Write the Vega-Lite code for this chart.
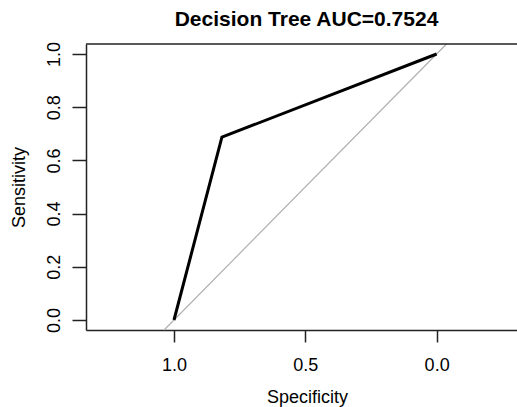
{
  "$schema": "https://vega.github.io/schema/vega-lite/v6.json",
  "autosize": "none",
  "width": 431,
  "height": 286,
  "padding": {"left": 86, "top": 44, "right": 0, "bottom": 77},
  "background": "white",
  "config": {
    "font": "Liberation Sans",
    "view": {"stroke": null}
  },
  "title": {
    "text": "Decision Tree AUC=0.7524",
    "fontSize": 21,
    "fontWeight": "bold",
    "color": "black",
    "anchor": "middle",
    "baseline": "middle",
    "offset": 0,
    "dx": 5
  },
  "datasets": {
    "roc": [
      {"specificity": 1.0, "sensitivity": 0.0},
      {"specificity": 0.8175, "sensitivity": 0.6873},
      {"specificity": 0.0, "sensitivity": 1.0}
    ],
    "diag": [
      {"specificity": 1.0376, "sensitivity": -0.0376},
      {"specificity": -0.0376, "sensitivity": 1.0376}
    ],
    "box": [
      {"top": 1.0376}
    ]
  },
  "layer": [
    {
      "data": {"name": "diag"},
      "mark": {"type": "line", "color": "#b0b0b0", "strokeWidth": 1.2},
      "encoding": {
        "x": {
          "field": "specificity",
          "type": "quantitative",
          "scale": {"domain": [-0.306, 1.335], "reverse": true, "nice": false, "zero": false},
          "axis": {
            "orient": "bottom",
            "values": [1, 0.5, 0],
            "format": ".1f",
            "title": "Specificity",
            "grid": false,
            "domainColor": "#222222",
            "domainWidth": 1.5,
            "tickColor": "#222222",
            "tickWidth": 1.5,
            "tickSize": 12,
            "labelFontSize": 18,
            "labelColor": "black",
            "labelPadding": 14,
            "labelBaseline": "top",
            "titleFontSize": 18,
            "titleFontWeight": "normal",
            "titleColor": "black",
            "titleY": 67,
            "titleBaseline": "middle",
            "titleX": 221
          }
        },
        "y": {
          "field": "sensitivity",
          "type": "quantitative",
          "scale": {"domain": [-0.0376, 1.0376], "nice": false, "zero": false},
          "axis": {
            "orient": "left",
            "values": [0, 0.2, 0.4, 0.6, 0.8, 1.0],
            "format": ".1f",
            "title": "Sensitivity",
            "grid": false,
            "domainColor": "#222222",
            "domainWidth": 1.5,
            "tickColor": "#222222",
            "tickWidth": 1.5,
            "tickSize": 14,
            "labelFontSize": 18,
            "labelColor": "black",
            "labelAngle": -90,
            "labelAlign": "center",
            "labelBaseline": "bottom",
            "labelPadding": 9,
            "titleFontSize": 18,
            "titleFontWeight": "normal",
            "titleColor": "black",
            "titleAngle": -90,
            "titleX": -67,
            "titleY": 143,
            "titleAlign": "center",
            "titleBaseline": "middle"
          }
        }
      }
    },
    {
      "data": {"name": "box"},
      "mark": {"type": "rule", "color": "#222222", "strokeWidth": 1.5},
      "encoding": {
        "y": {"field": "top", "type": "quantitative"}
      }
    },
    {
      "data": {"name": "roc"},
      "mark": {"type": "line", "color": "black", "strokeWidth": 3},
      "encoding": {
        "x": {"field": "specificity", "type": "quantitative"},
        "y": {"field": "sensitivity", "type": "quantitative"}
      }
    }
  ]
}
